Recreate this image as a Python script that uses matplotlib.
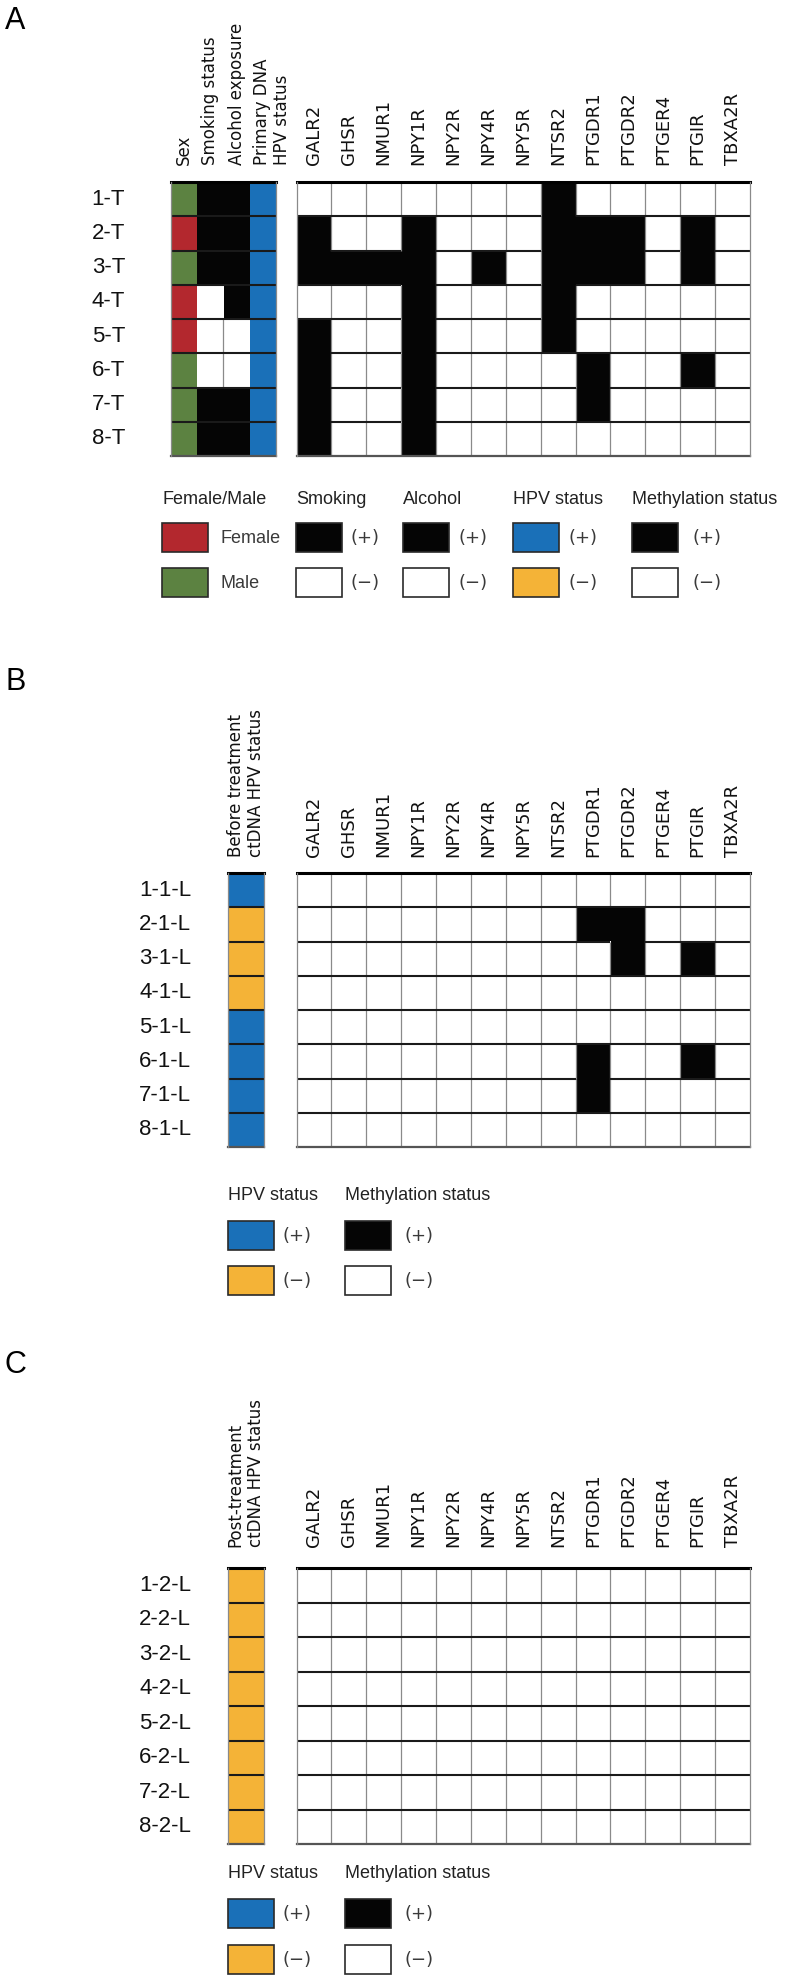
import numpy as np
import matplotlib.pyplot as plt
from matplotlib.colors import to_rgb
from matplotlib.patches import Rectangle

# ---- data -------------------------------------------------------------
genes = ['GALR2', 'GHSR', 'NMUR1', 'NPY1R', 'NPY2R', 'NPY4R', 'NPY5R',
         'NTSR2', 'PTGDR1', 'PTGDR2', 'PTGER4', 'PTGIR', 'TBXA2R']

samples_a = ['1-T', '2-T', '3-T', '4-T', '5-T', '6-T', '7-T', '8-T']
sex_a = ['M', 'F', 'M', 'F', 'F', 'M', 'M', 'M']
smoking_a = [1, 1, 1, 0, 0, 0, 1, 1]
alcohol_a = [1, 1, 1, 1, 0, 0, 1, 1]
hpv_a = [1, 1, 1, 1, 1, 1, 1, 1]
meth_a = [
    [0, 0, 0, 0, 0, 0, 0, 1, 0, 0, 0, 0, 0],
    [1, 0, 0, 1, 0, 0, 0, 1, 1, 1, 0, 1, 0],
    [1, 1, 1, 1, 0, 1, 0, 1, 1, 1, 0, 1, 0],
    [0, 0, 0, 1, 0, 0, 0, 1, 0, 0, 0, 0, 0],
    [1, 0, 0, 1, 0, 0, 0, 1, 0, 0, 0, 0, 0],
    [1, 0, 0, 1, 0, 0, 0, 0, 1, 0, 0, 1, 0],
    [1, 0, 0, 1, 0, 0, 0, 0, 1, 0, 0, 0, 0],
    [1, 0, 0, 1, 0, 0, 0, 0, 0, 0, 0, 0, 0],
]

samples_b = ['1-1-L', '2-1-L', '3-1-L', '4-1-L', '5-1-L', '6-1-L', '7-1-L', '8-1-L']
hpv_b = [1, 0, 0, 0, 1, 1, 1, 1]
meth_b = [
    [0, 0, 0, 0, 0, 0, 0, 0, 0, 0, 0, 0, 0],
    [0, 0, 0, 0, 0, 0, 0, 0, 1, 1, 0, 0, 0],
    [0, 0, 0, 0, 0, 0, 0, 0, 0, 1, 0, 1, 0],
    [0, 0, 0, 0, 0, 0, 0, 0, 0, 0, 0, 0, 0],
    [0, 0, 0, 0, 0, 0, 0, 0, 0, 0, 0, 0, 0],
    [0, 0, 0, 0, 0, 0, 0, 0, 1, 0, 0, 1, 0],
    [0, 0, 0, 0, 0, 0, 0, 0, 1, 0, 0, 0, 0],
    [0, 0, 0, 0, 0, 0, 0, 0, 0, 0, 0, 0, 0],
]

samples_c = ['1-2-L', '2-2-L', '3-2-L', '4-2-L', '5-2-L', '6-2-L', '7-2-L', '8-2-L']
hpv_c = [0, 0, 0, 0, 0, 0, 0, 0]
meth_c = [[0] * 13 for _ in range(8)]

RED, GREEN = '#b3282e', '#5c8241'
BLUE, ORANGE = '#1a70b8', '#f4b337'
W, H = 785, 1984

narrow = ['Liberation Sans Narrow', 'Liberation Sans', 'DejaVu Sans']
arial = ['Liberation Sans', 'DejaVu Sans']
verd = ['DejaVu Sans']

fig = plt.figure(figsize=(W / 100, H / 100), dpi=100)


def fx(x):
    return x / W


def fy(y):
    return 1 - y / H


def add_ax(x0, y0, x1, y1):
    ax = fig.add_axes([fx(x0), fy(y1), (x1 - x0) / W, (y1 - y0) / H])
    ax.axis('off')
    return ax


def draw_block(ax, rgb, black_mask, vcol='#8a8a8a', hcol='#1a1a1a', vlw=0.9, hlw=1.5,
               v_only_white=False):
    n, m = black_mask.shape
    ax.imshow(rgb, extent=(0, m, n, 0), aspect='auto', interpolation='nearest')
    ax.set_xlim(0, m)
    ax.set_ylim(n, 0)
    white = np.all(rgb > 0.95, axis=2)
    # vertical separators, hidden between two black cells
    for j in range(1, m):
        for i in range(n):
            both_black = black_mask[i, j - 1] and black_mask[i, j]
            if v_only_white and not (white[i, j - 1] and white[i, j]):
                continue
            if not both_black:
                ax.plot([j, j], [i, i + 1], color=vcol, lw=vlw, solid_capstyle='butt')
    # horizontal separators
    for i in range(1, n):
        for j in range(m):
            if not (black_mask[i - 1, j] and black_mask[i, j]):
                ax.plot([j, j + 1], [i, i], color=hcol, lw=hlw, solid_capstyle='butt')
    ax.plot([0, m], [0, 0], color='black', lw=2.2, clip_on=False)
    ax.plot([0, m], [n, n], color='#555555', lw=1.6, clip_on=False)
    ax.plot([0, 0], [0, n], color=vcol, lw=vlw, clip_on=False)
    ax.plot([m, m], [0, n], color=vcol, lw=vlw, clip_on=False)


def meth_block(x0, y0, x1, y1, meth):
    mask = np.array(meth, dtype=bool)
    rgb = np.where(mask[..., None], 0.02, 1.0) * np.ones(3)
    draw_block(add_ax(x0, y0, x1, y1), rgb, mask)


def gene_labels(x0, x1, ybot):
    cw = (x1 - x0) / len(genes)
    for k, g in enumerate(genes):
        fig.text(fx(x0 + cw * (k + 0.5)), fy(ybot), g, rotation=90, ha='center',
                 va='bottom', fontsize=13, family=verd, color='#111111')


def row_labels(samples, xr, y0, y1):
    rh = (y1 - y0) / len(samples)
    for k, s in enumerate(samples):
        fig.text(fx(xr), fy(y0 + rh * (k + 0.5)), s, ha='right', va='center',
                 fontsize=16, family=narrow, color='#111111')


def legend_box(x, y, color):
    fig.patches.append(Rectangle((fx(x), fy(y + 29)), 46 / W, 29 / H, transform=fig.transFigure,
                                 facecolor=color, edgecolor='#2a2a2a', lw=1.2))


def legend_col(x, ytitle, yrows, title, entries, tx):
    fig.text(fx(x), fy(ytitle), title, ha='left', va='center', fontsize=13,
             family=arial, color='#222222')
    for (color, lab), yr in zip(entries, yrows):
        legend_box(x, yr, color)
        fig.text(fx(tx), fy(yr + 15), lab, ha='left', va='center', fontsize=13,
                 family=verd if lab.startswith('(') else arial, color='#3a3a3a')


# ---- panel A ----------------------------------------------------------
fig.text(fx(5), fy(6), 'A', ha='left', va='top', fontsize=22, family=narrow)
ya0, ya1 = 182, 456
gx0, gx1 = 296.5, 750

cols = np.array([
    [to_rgb(RED) if s == 'F' else to_rgb(GREEN) for s in sex_a],
    [to_rgb('#050505') if v else (1, 1, 1) for v in smoking_a],
    [to_rgb('#050505') if v else (1, 1, 1) for v in alcohol_a],
    [to_rgb(BLUE) if v else to_rgb(ORANGE) for v in hpv_a],
]).transpose(1, 0, 2)
blk = np.stack([np.zeros(8, bool), np.array(smoking_a, bool),
                np.array(alcohol_a, bool), np.zeros(8, bool)], axis=1)
draw_block(add_ax(170.5, ya0, 276, ya1), cols, np.zeros_like(blk), v_only_white=True)

ann_heads = ['Sex', 'Smoking status', 'Alcohol exposure', 'Primary DNA\nHPV status']
ann_x = [183.5, 210, 236.5, 272]
for t, x in zip(ann_heads, ann_x):
    fig.text(fx(x), fy(165), t, rotation=90, ha='center', va='bottom', fontsize=12,
             family=verd, multialignment='left', color='#111111')

meth_block(gx0, ya0, gx1, ya1, meth_a)
gene_labels(gx0, gx1, 165)
row_labels(samples_a, 125, ya0, ya1)

rows_a = [523, 568]
legend_col(162, 499, rows_a, 'Female/Male', [(RED, 'Female'), (GREEN, 'Male')], 220)
legend_col(296, 499, rows_a, 'Smoking', [('#050505', '(+)'), ('white', '(−)')], 350)
legend_col(403, 499, rows_a, 'Alcohol', [('#050505', '(+)'), ('white', '(−)')], 459)
legend_col(513, 499, rows_a, 'HPV status', [(BLUE, '(+)'), (ORANGE, '(−)')], 569)
legend_col(632, 499, rows_a, 'Methylation status', [('#050505', '(+)'), ('white', '(−)')], 692)


# ---- panels B and C -----------------------------------------------------
def ct_panel(letter, ylet, head, hbot, y0, y1, samples, hpv, meth, ytitle, yrows):
    fig.text(fx(5), fy(ylet), letter, ha='left', va='center', fontsize=22, family=narrow)
    hc = np.array([[to_rgb(BLUE) if v else to_rgb(ORANGE)] for v in hpv])
    draw_block(add_ax(228, y0, 264, y1), hc, np.zeros((len(hpv), 1), bool))
    fig.text(fx(246), fy(hbot), head, rotation=90, ha='center', va='bottom', fontsize=12,
             family=verd, multialignment='left', color='#111111')
    meth_block(gx0, y0, gx1, y1, meth)
    gene_labels(gx0, gx1, hbot)
    row_labels(samples, 191, y0, y1)
    legend_col(228, ytitle, yrows, 'HPV status', [(BLUE, '(+)'), (ORANGE, '(−)')], 283)
    legend_col(345, ytitle, yrows, 'Methylation status', [('#050505', '(+)'), ('white', '(−)')], 405)


ct_panel('B', 682, 'Before treatment\nctDNA HPV status', 857, 873, 1147,
         samples_b, hpv_b, meth_b, 1196, [1221, 1266])
ct_panel('C', 1365, 'Post-treatment\nctDNA HPV status', 1547, 1568, 1844,
         samples_c, hpv_c, meth_c, 1873, [1899, 1945])

fig.savefig('out.png', dpi=100, facecolor='white')
